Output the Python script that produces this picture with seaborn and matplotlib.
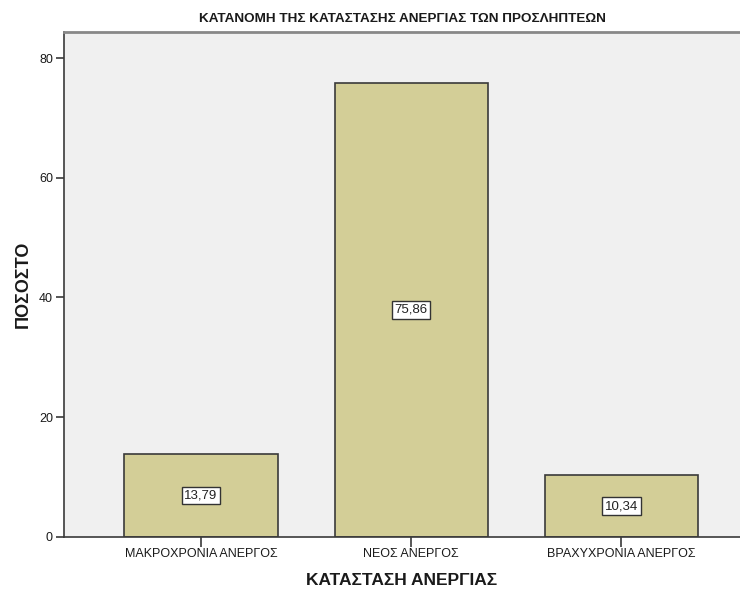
import pandas as pd
import matplotlib
matplotlib.use("Agg")
import matplotlib.pyplot as plt
import seaborn as sns

# data
categories = ["ΜΑΚΡΟΧΡΟΝΙΑ ΑΝΕΡΓΟΣ", "ΝΕΟΣ ΑΝΕΡΓΟΣ", "ΒΡΑΧΥΧΡΟΝΙΑ ΑΝΕΡΓΟΣ"]
percent = [13.79, 75.86, 10.34]
yticks = [0, 20, 40, 60, 80]

title = "ΚΑΤΑΝΟΜΗ ΤΗΣ ΚΑΤΑΣΤΑΣΗΣ ΑΝΕΡΓΙΑΣ ΤΩΝ ΠΡΟΣΛΗΠΤΕΩΝ"
xlabel = "ΚΑΤΑΣΤΑΣΗ ΑΝΕΡΓΙΑΣ"
ylabel = "ΠΟΣΟΣΤΟ"

df = pd.DataFrame({"status": categories, "pct": percent})

sns.set_style("white")
plt.rcParams["font.family"] = ["Liberation Sans", "DejaVu Sans"]

fig = plt.figure(figsize=(7.4, 5.91), dpi=100)
ax = fig.add_axes([0.0865, 0.0914, 0.9135, 0.8545])
ax.set_facecolor("#f0f0f0")

sns.barplot(data=df, x="status", y="pct", color="#d3ce97", saturation=1,
            width=0.73, edgecolor="#3a3a3a", linewidth=1.2, ax=ax)

for i, v in enumerate(percent):
    ax.text(i, v / 2, f"{v:.2f}".replace(".", ","), ha="center", va="center",
            fontsize=9.5, color="#222222",
            bbox=dict(boxstyle="square,pad=0.2", fc="white", ec="#333333", lw=1))

ax.set_xlim(-0.652, 2.564)
ax.set_ylim(0, 84.35)
ax.set_yticks(yticks)
ax.tick_params(axis="both", direction="out", length=6, width=1.2,
               color="#3a3a3a", labelsize=9, labelcolor="#1a1a1a", pad=2,
               bottom=True, left=True)
ax.tick_params(axis="x", length=7, pad=1)

for side in ["left", "bottom"]:
    ax.spines[side].set_color("#3a3a3a")
    ax.spines[side].set_linewidth(1.2)
ax.spines["top"].set_color("#888888")
ax.spines["top"].set_linewidth(2)
ax.spines["right"].set_visible(False)

ax.set_xlabel(xlabel, fontsize=12.5, fontweight="bold", color="#1a1a1a", labelpad=9)
ax.set_ylabel(ylabel, fontsize=13, fontweight="bold", color="#1a1a1a", labelpad=5)
ax.set_title(title, fontsize=9.7, fontweight="bold", color="#1a1a1a", pad=7)

fig.savefig("out.png", dpi=100)
